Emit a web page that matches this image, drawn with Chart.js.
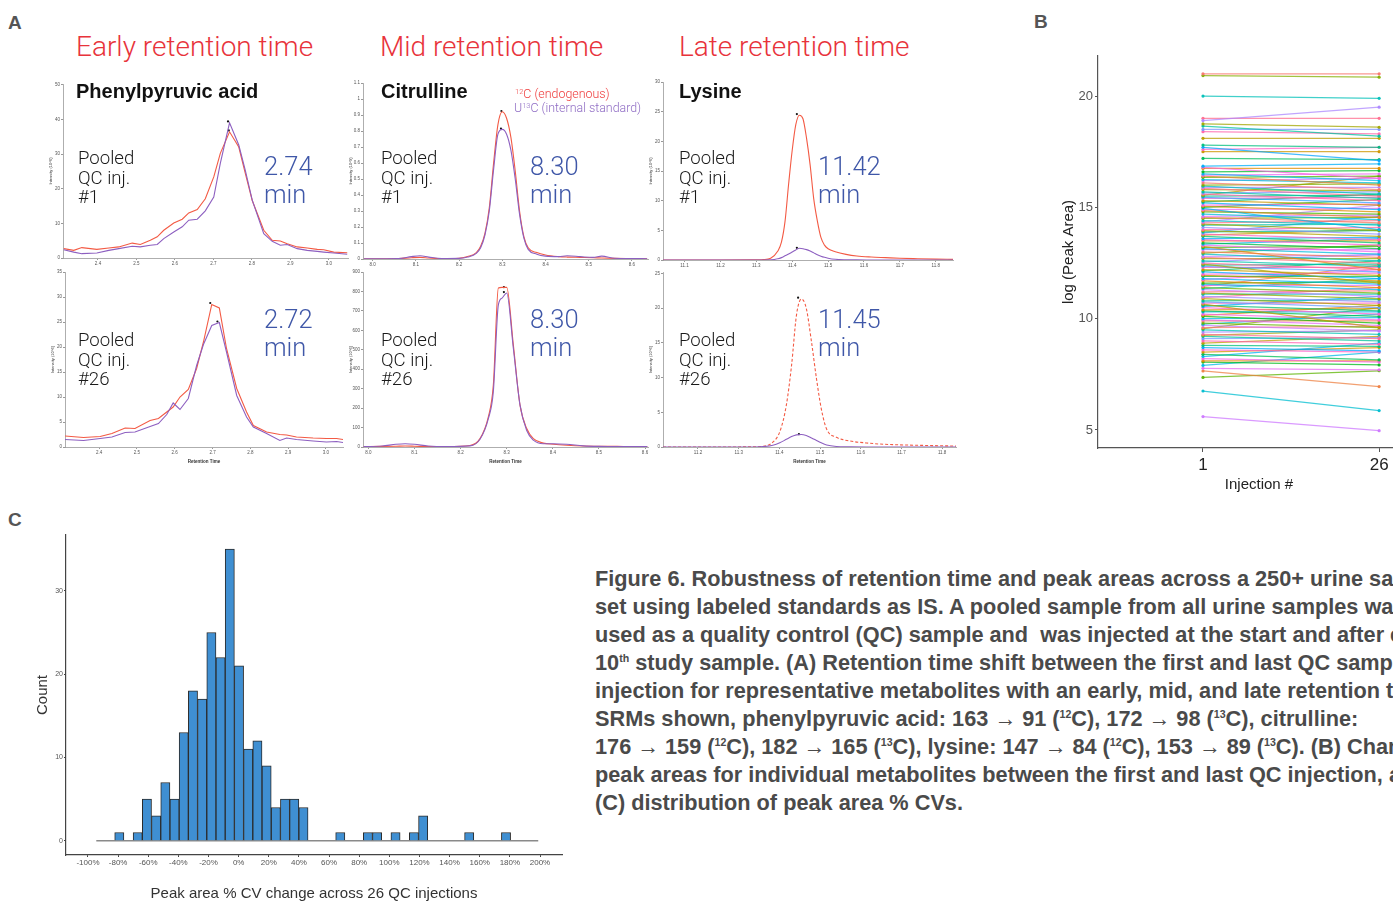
<!DOCTYPE html>
<html>
<head>
<meta charset="utf-8">
<script src="https://cdn.jsdelivr.net/npm/chart.js@4.4.1/dist/chart.umd.min.js"></script>
<style>
html, body { margin: 0; padding: 0; background: #fff; width: 1393px; height: 901px; overflow: hidden; position: relative; font-family: "Liberation Sans", Arial, sans-serif; }
canvas { position: absolute; }
.t { position: absolute; white-space: nowrap; line-height: 1; }
.lab { font-weight: bold; font-size: 19px; color: #555; }
.col { font-family: Roboto, "Liberation Sans", sans-serif; font-weight: 300; font-size: 28px; color: #e8333b; }
.cmp { font-weight: bold; font-size: 20px; color: #111; }
.leg { font-family: Roboto, "Liberation Sans", sans-serif; font-weight: 300; font-size: 12.4px; }
.leg sup { font-size: 7.5px; vertical-align: 4px; line-height: 0; }
.qc { font-family: Roboto, "Liberation Sans", sans-serif; font-weight: 300; font-size: 18.6px; line-height: 19.7px; color: #1a1a1a; }
.rt { font-family: Roboto, "Liberation Sans", sans-serif; font-weight: 300; font-size: 25.5px; line-height: 27.5px; color: #3f57a8; }
.cap { position: absolute; left: 595px; top: 565px; font-family: "Liberation Sans", sans-serif; font-weight: bold; font-size: 22.5px; line-height: 28px; color: #4a4a4a; white-space: nowrap; transform: scaleX(0.965); transform-origin: 0 0; }
.cap sup { font-size: 11px; vertical-align: 8px; line-height: 0; }
</style>
</head>
<body>

<div class="t lab" style="left:8px;top:13px">A</div>
<div class="t lab" style="left:1034px;top:12px">B</div>
<div class="t lab" style="left:8px;top:510px">C</div>

<div class="t col" style="left:76px;top:33px">Early retention time</div>
<div class="t col" style="left:380px;top:33px">Mid retention time</div>
<div class="t col" style="left:679px;top:33px">Late retention time</div>

<canvas id="pprTop"></canvas>
<canvas id="pprBottom"></canvas>
<canvas id="citTop"></canvas>
<canvas id="citBottom"></canvas>
<canvas id="lysTop"></canvas>
<canvas id="lysBottom"></canvas>
<canvas id="peakChart"></canvas>
<canvas id="cvChart"></canvas>

<div class="t cmp" style="left:76px;top:81px">Phenylpyruvic acid</div>
<div class="t cmp" style="left:381px;top:81px">Citrulline</div>
<div class="t cmp" style="left:679px;top:81px">Lysine</div>

<div class="t leg" style="left:515px;top:88px;color:#ef3b3b"><sup>12</sup>C (endogenous)</div>
<div class="t leg" style="left:514px;top:102px;color:#8f6cc4">U<sup>13</sup>C (internal standard)</div>

<div class="t qc" style="left:78px;top:149px">Pooled<br>QC inj.<br>#1</div>
<div class="t qc" style="left:78px;top:331px">Pooled<br>QC inj.<br>#26</div>
<div class="t qc" style="left:381px;top:149px">Pooled<br>QC inj.<br>#1</div>
<div class="t qc" style="left:381px;top:331px">Pooled<br>QC inj.<br>#26</div>
<div class="t qc" style="left:679px;top:149px">Pooled<br>QC inj.<br>#1</div>
<div class="t qc" style="left:679px;top:331px">Pooled<br>QC inj.<br>#26</div>

<div class="t rt" style="left:264px;top:153px">2.74<br>min</div>
<div class="t rt" style="left:264px;top:306px">2.72<br>min</div>
<div class="t rt" style="left:530px;top:153px">8.30<br>min</div>
<div class="t rt" style="left:530px;top:306px">8.30<br>min</div>
<div class="t rt" style="left:818px;top:153px">11.42<br>min</div>
<div class="t rt" style="left:818px;top:306px">11.45<br>min</div>

<div class="cap">
Figure 6. Robustness of retention time and peak areas across a 250+ urine sample<br>
set using labeled standards as IS. A pooled sample from all urine samples was<br>
used as a quality control (QC) sample and &nbsp;was injected at the start and after every<br>
10<sup>th</sup> study sample. (A) Retention time shift between the first and last QC sample<br>
injection for representative metabolites with an early, mid, and late retention time.<br>
SRMs shown, phenylpyruvic acid: 163 → 91 (<sup>12</sup>C), 172 → 98 (<sup>13</sup>C), citrulline:<br>
176 → 159 (<sup>12</sup>C), 182 → 165 (<sup>13</sup>C), lysine: 147 → 84 (<sup>12</sup>C), 153 → 89 (<sup>13</sup>C). (B) Change in<br>
peak areas for individual metabolites between the first and last QC injection, and<br>
(C) distribution of peak area % CVs.
</div>

<script>
// ---- panel A: chromatograms (retention time in min, intensity) ----
// phenylpyruvic acid, QC injection #1
const pprRt1 = [2.311, 2.337, 2.358, 2.397, 2.428, 2.454, 2.489, 2.510, 2.536, 2.554, 2.571, 2.597, 2.619, 2.636, 2.658, 2.679, 2.701, 2.718, 2.742, 2.766, 2.783, 2.801, 2.831, 2.853, 2.874, 2.892, 2.918, 2.944, 2.970, 2.987, 3.013, 3.048]
const pprRed1 = [2.7, 2.2, 3.0, 2.5, 2.9, 3.2, 4.3, 3.9, 5.1, 6.1, 8.0, 10.1, 11.2, 13.0, 14.0, 17.1, 23.4, 30.2, 36.4, 32.0, 24.4, 16.6, 8.0, 5.1, 4.9, 4.1, 3.2, 2.9, 2.5, 2.4, 1.7, 1.5]
const pprPurple1 = [2.4, 1.7, 1.25, 1.45, 2.2, 2.7, 3.4, 3.2, 3.7, 3.9, 5.6, 7.5, 9.0, 10.9, 11.2, 13.6, 17.6, 27.3, 39.0, 32.6, 25.3, 16.7, 7.0, 4.8, 3.7, 3.9, 2.7, 2.2, 1.9, 1.7, 1.45, 1.1]
const pprApex1 = [[2.738, 39.4], [2.740, 36.8]]
// phenylpyruvic acid, QC injection #26
const pprRt26 = [2.310, 2.359, 2.403, 2.434, 2.469, 2.495, 2.535, 2.557, 2.579, 2.596, 2.614, 2.636, 2.658, 2.676, 2.698, 2.718, 2.737, 2.764, 2.790, 2.808, 2.843, 2.878, 2.896, 2.922, 2.966, 3.001, 3.028, 3.045]
const pprRed26 = [2.2, 1.9, 2.1, 2.7, 3.8, 3.7, 5.3, 5.7, 7.0, 8.0, 10.0, 11.5, 15.7, 21.0, 28.5, 27.8, 19.7, 11.7, 7.0, 4.3, 3.0, 2.5, 2.4, 2.0, 1.8, 1.7, 1.7, 1.5]
const pprPurple26 = [1.5, 1.3, 1.7, 2.0, 2.9, 3.0, 4.1, 4.7, 6.5, 8.8, 7.5, 9.7, 16.3, 20.5, 24.3, 24.9, 19.0, 10.3, 6.0, 4.0, 2.7, 1.3, 1.8, 1.5, 1.2, 1.0, 1.1, 0.9]
const pprApex26 = [[2.694, 28.8], [2.713, 25.1]]
// citrulline, QC injection #1
const citRt1 = [7.98, 8.02, 8.06, 8.09, 8.11, 8.13, 8.16, 8.20, 8.22, 8.24, 8.25, 8.26, 8.27, 8.28, 8.29, 8.30, 8.31, 8.32, 8.33, 8.34, 8.35, 8.36, 8.38, 8.40, 8.43, 8.45, 8.48, 8.51, 8.53, 8.56, 8.60, 8.635]
const citRed1 = [0.002, 0.002, 0.003, 0.008, 0.01, 0.006, 0.002, 0.005, 0.015, 0.04, 0.08, 0.16, 0.32, 0.6, 0.84, 0.92, 0.88, 0.76, 0.55, 0.3, 0.14, 0.07, 0.04, 0.025, 0.015, 0.012, 0.01, 0.008, 0.006, 0.004, 0.003, 0.002]
const citPurple1 = [0.002, 0.002, 0.003, 0.015, 0.02, 0.012, 0.003, 0.004, 0.012, 0.035, 0.07, 0.15, 0.3, 0.56, 0.78, 0.81, 0.78, 0.68, 0.5, 0.28, 0.13, 0.06, 0.03, 0.018, 0.015, 0.02, 0.015, 0.01, 0.018, 0.005, 0.003, 0.002]
const citApex1 = [[8.298, 0.925], [8.297, 0.815]]
// citrulline, QC injection #26
const citRt26 = [7.99, 8.03, 8.06, 8.08, 8.10, 8.13, 8.17, 8.2205, 8.2422, 8.2603, 8.2711, 8.282, 8.29, 8.3001, 8.3145, 8.329, 8.3435, 8.3579, 8.3796, 8.4013, 8.43, 8.4664, 8.50, 8.54, 8.58, 8.605]
const citRed26 = [2, 3, 4, 5, 4, 2, 2, 8, 43, 155, 318, 818, 821, 821, 525, 215, 95, 43, 20, 14, 9, 5, 4, 3, 2, 2]
const citPurple26 = [2, 5, 14, 17, 14, 5, 2, 6, 40, 146, 284, 731, 766, 792, 508, 215, 85, 35, 17, 17, 14, 6, 3, 2, 2, 2]
const citApex26 = [[8.294, 822], [8.294, 797]]
// lysine, QC injection #1
const lysRt1 = [11.04, 11.1, 11.2, 11.28, 11.32, 11.34, 11.36, 11.37, 11.38, 11.39, 11.40, 11.41, 11.42, 11.43, 11.44, 11.45, 11.46, 11.47, 11.48, 11.49, 11.50, 11.52, 11.55, 11.58, 11.62, 11.66, 11.70, 11.75, 11.80, 11.848]
const lysRed1 = [0, 0, 0, 0.02, 0.08, 0.3, 1.5, 3.0, 6.5, 12.8, 18.5, 22.8, 24.4, 23.8, 20.5, 16.0, 10.3, 6.6, 3.8, 2.5, 1.9, 1.4, 0.95, 0.67, 0.5, 0.4, 0.3, 0.22, 0.15, 0.1]
const lysPurple1 = [0, 0, 0, 0, 0, 0.02, 0.2, 0.4, 0.7, 1.0, 1.35, 1.7, 1.97, 1.9, 1.75, 1.5, 1.2, 0.9, 0.65, 0.45, 0.3, 0.12, 0.04, 0.02, 0.01, 0, 0, 0, 0, 0]
const lysApex1 = [[11.413, 24.6], [11.413, 2.05]]
// lysine, QC injection #26
const lysRt26 = [11.114, 11.2, 11.3, 11.34, 11.36, 11.384, 11.401, 11.417, 11.43, 11.442, 11.454, 11.466, 11.479, 11.491, 11.503, 11.516, 11.54, 11.573, 11.614, 11.655, 11.737, 11.819, 11.834]
const lysRed26 = [0, 0, 0.01, 0.03, 0.1, 0.7, 2.2, 6.0, 11.8, 19.0, 21.3, 20.0, 15.1, 9.9, 5.5, 2.6, 1.4, 0.87, 0.58, 0.4, 0.25, 0.15, 0.12]
const lysPurple26 = [0, 0, 0, 0, 0.05, 0.25, 0.6, 1.1, 1.5, 1.75, 1.8, 1.65, 1.3, 0.95, 0.6, 0.3, 0.08, 0.02, 0, 0, 0, 0, 0]
const lysApex26 = [[11.446, 21.5], [11.448, 1.85]]

const pprTimeTicks = [2.4, 2.5, 2.6, 2.7, 2.8, 2.9, 3.0]
const citTimeTicks = [8.0, 8.1, 8.2, 8.3, 8.4, 8.5, 8.6]
const lysTimeTicks = [11.1, 11.2, 11.3, 11.4, 11.5, 11.6, 11.7, 11.8]
const lysTimeTicks26 = [11.2, 11.3, 11.4, 11.5, 11.6, 11.7, 11.8]

// ---- panel B: log peak area, first vs last QC injection ----
const injections = [1, 26]
const qcFirst = [21.0, 20.92, 20.0, 18.9, 19.0, 18.75, 18.65, 18.5, 18.4, 18.1, 17.8, 17.7, 17.6, 17.5, 17.2, 16.85, 16.8, 16.75, 16.6, 16.5,
  16.45, 16.4, 16.35, 16.25, 16.2, 16.1, 16.0, 15.95, 15.9, 15.85, 15.8, 15.7, 15.65, 15.6, 15.55, 15.5, 15.45, 15.4, 15.3, 15.25,
  15.2, 15.1, 15.05, 15.0, 14.95, 14.9, 14.85, 14.8, 14.7, 14.6, 14.55, 14.5, 14.4, 14.35, 14.3, 14.25, 14.2, 14.1, 14.0, 13.95,
  13.9, 13.85, 13.8, 13.75, 13.7, 13.6, 13.55, 13.5, 13.4, 13.35, 13.3, 13.25, 13.2, 13.15, 13.1, 13.0, 12.95, 12.9, 12.8, 12.75,
  12.7, 12.6, 12.55, 12.5, 12.45, 12.4, 12.35, 12.3, 12.2, 12.15, 12.1, 12.0, 11.95, 11.9, 11.8, 11.75, 11.7, 11.6, 11.55, 11.5,
  11.45, 11.4, 11.35, 11.3, 11.2, 11.15, 11.1, 11.0, 10.95, 10.9, 10.8, 10.75, 10.7, 10.65, 10.6, 10.55, 10.5, 10.4, 10.35, 10.3,
  10.2, 10.15, 10.1, 10.0, 9.95, 9.9, 9.8, 9.75, 9.7, 9.6, 9.55, 9.5, 9.4, 9.3, 9.25, 9.2, 9.1, 9.0, 8.9, 8.8,
  8.7, 8.6, 8.5, 8.4, 8.3, 8.2, 8.1, 8.05, 7.9, 7.77, 7.65, 7.36, 6.75, 5.6]
const qcLast = [21.0, 20.85, 19.9, 19.5, 19.0, 18.6, 18.2, 18.5, 18.3, 18.1, 17.7, 17.1, 17.7, 17.5, 17.15, 16.95, 16.3, 16.75, 16.65, 16.2,
  16.5, 16.0, 16.4, 16.1, 16.3, 15.8, 16.05, 15.6, 15.9, 15.5, 15.75, 15.4, 15.7, 15.3, 16.4, 15.55, 15.2, 15.45, 15.1, 15.6,
  14.9, 15.15, 14.8, 15.35, 14.0, 14.95, 14.55, 14.7, 14.45, 14.65, 14.3, 14.55, 14.2, 15.1, 14.4, 13.95, 14.25, 13.8, 14.1, 13.7,
  13.95, 14.6, 13.55, 14.0, 13.4, 13.65, 13.3, 13.5, 13.15, 13.6, 13.0, 12.2, 13.25, 12.9, 13.1, 12.75, 13.3, 12.6, 12.85, 12.5,
  12.7, 12.35, 12.9, 12.2, 11.6, 12.45, 12.1, 12.3, 11.95, 12.6, 11.8, 12.05, 11.7, 11.9, 11.55, 12.2, 11.4, 11.65, 11.3, 11.5,
  12.4, 11.15, 11.8, 11.0, 11.25, 10.9, 11.1, 10.75, 11.4, 10.6, 10.85, 10.5, 10.7, 9.6, 10.35, 11.0, 10.2, 10.45, 10.1, 10.3,
  9.95, 10.6, 9.8, 10.05, 9.7, 9.9, 9.6, 10.2, 9.45, 9.65, 10.5, 9.3, 9.45, 9.1, 9.5, 9.0, 9.15, 8.85, 9.2, 8.75,
  8.55, 8.5, 8.7, 8.15, 8.9, 8.05, 8.1, 7.92, 8.5, 7.7, 6.95, 7.66, 5.87, 4.97]
const peakAreaTicks = [5, 10, 15, 20]

// ---- panel C: histogram of peak area % CV change ----
const cvBinStart = -94.5
const cvBinWidth = 6.111
const cvCounts = [0, 0, 1, 0, 1, 5, 3, 7, 5, 13, 18, 17, 25, 22, 35, 21, 11, 12, 9, 4, 5, 5, 4, 0,
  0, 0, 1, 0, 0, 1, 1, 0, 1, 0, 1, 3, 0, 0, 0, 0, 1, 0, 0, 0, 1, 0, 0, 0]
const cvTicks = [-100, -80, -60, -40, -20, 0, 20, 40, 60, 80, 100, 120, 140, 160, 180, 200]
const countTicks = [0, 10, 20, 30]

const RED = '#f35a44'
const PURPLE = '#8d5fc0'

Chart.defaults.font.family = '"Liberation Sans", Arial, sans-serif'
Chart.defaults.animation = false
Chart.defaults.responsive = false
Chart.defaults.maintainAspectRatio = false
Chart.defaults.devicePixelRatio = 1
Chart.defaults.plugins.legend.display = false
Chart.defaults.plugins.tooltip.enabled = false

// size and place a canvas so that its chart area lands on "area"
const place = function (id, area, pad) {
    const el = document.getElementById(id)
    el.width = area.right - area.left + pad.left + pad.right
    el.height = area.bottom - area.top + pad.top + pad.bottom
    el.style.left = (area.left - pad.left) + 'px'
    el.style.top = (area.top - pad.top) + 'px'
    return el
}

const fixTicks = values => scale => { scale.ticks = values.map(v => ({ value: v })) }

const chromatogram = function (id, p) {
    const pad = { left: 16, right: 5, top: 5, bottom: p.bottomAxis ? 18 : 11 }
    const el = place(id, p.area, pad)
    const trace = (ys, color, dash) => ({
        data: p.rt.map((x, i) => ({ x: x, y: ys[i] })),
        borderColor: color,
        borderWidth: 1.1,
        borderDash: dash || [],
        pointRadius: 0,
        tension: p.smooth ? 0.4 : 0,
        cubicInterpolationMode: p.smooth ? 'monotone' : 'default'
    })
    return new Chart(el, {
        type: 'line',
        data: {
            datasets: [
                trace(p.purple, PURPLE),
                trace(p.red, RED, p.dashed ? [3, 2] : null),
                {
                    data: p.apex.map(a => ({ x: a[0], y: a[1] })),
                    showLine: false,
                    pointRadius: 1.1,
                    pointBorderWidth: 0,
                    pointBackgroundColor: '#111'
                }
            ]
        },
        options: {
            layout: { padding: { top: pad.top, right: pad.right, left: 0, bottom: 0 } },
            scales: {
                x: {
                    type: 'linear', min: p.xMin, max: p.xMax,
                    afterBuildTicks: fixTicks(p.xTicks),
                    afterFit: s => { s.height = pad.bottom },
                    ticks: { font: { size: 4.5 }, color: '#555', padding: 1, maxRotation: 0, autoSkip: false, callback: v => v.toFixed(1) },
                    grid: { drawOnChartArea: false, tickLength: 2, color: '#999' },
                    border: { color: '#999', width: 0.8 },
                    title: { display: !!p.bottomAxis, text: 'Retention Time', font: { size: 4.5, weight: 'bold' }, color: '#333', padding: { top: 1, bottom: 1 } }
                },
                y: {
                    min: 0, max: p.yMax,
                    afterBuildTicks: fixTicks(p.yTicks),
                    afterFit: s => { s.width = pad.left },
                    ticks: { font: { size: 4.5 }, color: '#555', padding: 1, autoSkip: false, callback: v => String(Math.round(v * 10) / 10) },
                    grid: { drawOnChartArea: false, tickLength: 2, color: '#999' },
                    border: { color: '#999', width: 0.8 },
                    title: { display: true, text: p.yTitle, font: { size: 4 }, color: '#333', padding: 1 }
                }
            }
        }
    })
}

chromatogram('pprTop', {
    area: { left: 63, top: 84, right: 348, bottom: 258 }, xMin: 2.309, xMax: 3.05, yMax: 50.2,
    xTicks: pprTimeTicks, yTicks: [0, 10, 20, 30, 40, 50], yTitle: 'Intensity (10^6)',
    rt: pprRt1, red: pprRed1, purple: pprPurple1, apex: pprApex1
})
chromatogram('pprBottom', {
    area: { left: 65, top: 272, right: 343, bottom: 447 }, xMin: 2.31, xMax: 3.045, yMax: 35,
    xTicks: pprTimeTicks, yTicks: [0, 5, 10, 15, 20, 25, 30, 35], yTitle: 'Intensity (10^6)', bottomAxis: true,
    rt: pprRt26, red: pprRed26, purple: pprPurple26, apex: pprApex26
})
chromatogram('citTop', {
    area: { left: 363, top: 83, right: 648, bottom: 259 }, xMin: 7.978, xMax: 8.637, yMax: 1.1,
    xTicks: citTimeTicks, yTicks: [0, 0.1, 0.2, 0.3, 0.4, 0.5, 0.6, 0.7, 0.8, 0.9, 1, 1.1], yTitle: 'Intensity (10^9)', smooth: true,
    rt: citRt1, red: citRed1, purple: citPurple1, apex: citApex1
})
chromatogram('citBottom', {
    area: { left: 363, top: 272, right: 648, bottom: 447 }, xMin: 7.9885, xMax: 8.6065, yMax: 900,
    xTicks: citTimeTicks, yTicks: [0, 100, 200, 300, 400, 500, 600, 700, 800, 900], yTitle: 'Intensity (10^6)', bottomAxis: true, smooth: true,
    rt: citRt26, red: citRed26, purple: citPurple26, apex: citApex26
})
chromatogram('lysTop', {
    area: { left: 663, top: 82, right: 953, bottom: 260 }, xMin: 11.04, xMax: 11.848, yMax: 30,
    xTicks: lysTimeTicks, yTicks: [0, 5, 10, 15, 20, 25, 30], yTitle: 'Intensity (10^6)', smooth: true,
    rt: lysRt1, red: lysRed1, purple: lysPurple1, apex: lysApex1
})
chromatogram('lysBottom', {
    area: { left: 663, top: 272, right: 956, bottom: 447 }, xMin: 11.114, xMax: 11.834, yMax: 25.2,
    xTicks: lysTimeTicks26, yTicks: [0, 5, 10, 15, 20, 25], yTitle: 'Intensity (10^6)', bottomAxis: true, smooth: true, dashed: true,
    rt: lysRt26, red: lysRed26, purple: lysPurple26, apex: lysApex26
})

// ggplot-like hue palette (polar Luv)
const hueColor = function (h, alpha) {
    const L = 65, C = 100, hr = h * Math.PI / 180
    const u = C * Math.cos(hr), v = C * Math.sin(hr)
    const un = 0.19784, vn = 0.46834
    const Y = Math.pow((L + 16) / 116, 3)
    const up = u / (13 * L) + un, vp = v / (13 * L) + vn
    const X = Y * 9 * up / (4 * vp), Z = Y * (12 - 3 * up - 20 * vp) / (4 * vp)
    const lin = [3.2406 * X - 1.5372 * Y - 0.4986 * Z, -0.9689 * X + 1.8758 * Y + 0.0415 * Z, 0.0557 * X - 0.2040 * Y + 1.0570 * Z]
    const rgb = lin.map(c => {
        const g = c <= 0.0031308 ? 12.92 * c : 1.055 * Math.pow(c, 1 / 2.4) - 0.055
        return Math.round(Math.max(0, Math.min(1, g)) * 255)
    })
    return 'rgba(' + rgb.join(',') + ',' + alpha + ')'
}

const peakLines = qcFirst.map(function (start, i) {
    const k = (i * 37) % qcFirst.length
    const hue = 15 + 360 * k / qcFirst.length
    return {
        data: [{ x: injections[0], y: start }, { x: injections[1], y: qcLast[i] }],
        borderColor: hueColor(hue, 0.75),
        pointBackgroundColor: hueColor(hue, 0.95),
        borderWidth: 1.25,
        pointRadius: 1.6,
        pointBorderWidth: 0
    }
})

new Chart(place('peakChart', { left: 1098, top: 56, right: 1420, bottom: 448 }, { left: 42, right: 14, top: 12, bottom: 50 }), {
    type: 'line',
    data: { datasets: peakLines },
    options: {
        layout: { padding: { top: 12, right: 14, left: 0, bottom: 0 } },
        scales: {
            x: {
                type: 'linear', min: -13.9, max: 31.8,
                afterBuildTicks: fixTicks(injections),
                afterFit: s => { s.height = 50 },
                ticks: { font: { size: 17 }, color: '#222', padding: 3, maxRotation: 0 },
                grid: { drawOnChartArea: false, tickLength: 4, color: '#555' },
                border: { color: '#555', width: 1.2 },
                title: { display: true, text: 'Injection #', font: { size: 15 }, color: '#222', padding: { top: 2, bottom: 4 } }
            },
            y: {
                min: 4.19, max: 21.8,
                afterBuildTicks: fixTicks(peakAreaTicks),
                afterFit: s => { s.width = 42 },
                ticks: { font: { size: 13 }, color: '#555', padding: 2 },
                grid: { drawOnChartArea: false, tickLength: 3, color: '#555' },
                border: { color: '#555', width: 1.2 },
                title: { display: true, text: 'log (Peak Area)', font: { size: 15 }, color: '#222', padding: 4 }
            }
        }
    }
})

const cvBars = cvCounts.map((c, i) => ({ x: cvBinStart + (i + 0.5) * cvBinWidth, y: c }))

new Chart(place('cvChart', { left: 66, top: 535, right: 562, bottom: 855 }, { left: 36, right: 14, top: 8, bottom: 52 }), {
    type: 'bar',
    data: {
        datasets: [
            {
                type: 'bar',
                data: cvBars,
                backgroundColor: '#3f8fd2',
                borderColor: '#2b2b2b',
                borderWidth: 1,
                borderSkipped: 'bottom',
                barPercentage: 1,
                categoryPercentage: 1,
                order: 1
            },
            {
                type: 'line',
                data: [{ x: cvBinStart, y: 0 }, { x: cvBinStart + cvCounts.length * cvBinWidth, y: 0 }],
                borderColor: '#8a8a8a',
                borderWidth: 1.5,
                pointRadius: 0,
                order: 2
            }
        ]
    },
    options: {
        layout: { padding: { top: 8, right: 14, left: 0, bottom: 0 } },
        scales: {
            x: {
                type: 'linear', min: -114.6, max: 214.6, offset: false,
                afterBuildTicks: fixTicks(cvTicks),
                afterFit: s => { s.height = 52 },
                ticks: { font: { size: 8 }, color: '#555', padding: 1, maxRotation: 0, autoSkip: false, callback: v => v + '%' },
                grid: { drawOnChartArea: false, offset: false, tickLength: 2, color: '#444' },
                border: { color: '#444', width: 1.2 },
                title: { display: true, text: 'Peak area % CV change across 26 QC injections', font: { size: 15 }, color: '#333', padding: { top: 2, bottom: 4 } }
            },
            y: {
                min: -1.7, max: 36.7,
                afterBuildTicks: fixTicks(countTicks),
                afterFit: s => { s.width = 36 },
                ticks: { font: { size: 7 }, color: '#555', padding: 1 },
                grid: { drawOnChartArea: false, tickLength: 2, color: '#444' },
                border: { color: '#444', width: 1.2 },
                title: { display: true, text: 'Count', font: { size: 15 }, color: '#333', padding: 4 }
            }
        }
    }
})
</script>
</body>
</html>
